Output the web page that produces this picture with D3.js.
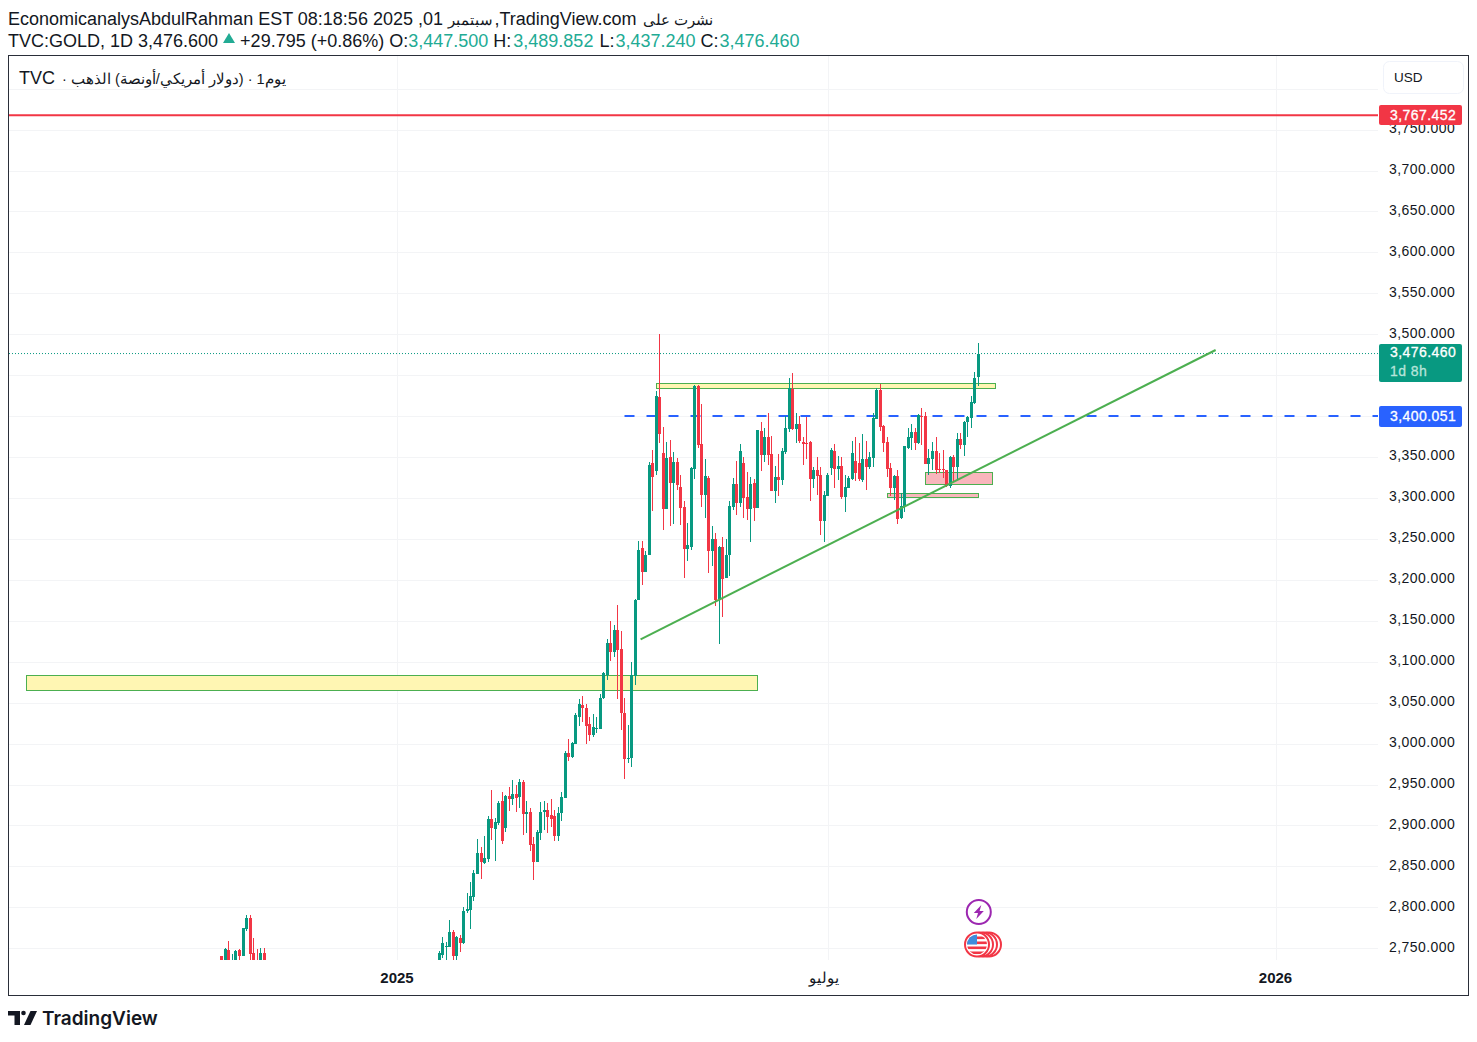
<!DOCTYPE html>
<html lang="ar">
<head>
<meta charset="UTF-8">
<title>TVC:GOLD 1D</title>
<script src="https://d3js.org/d3.v7.min.js"></script>
<style>
    html, body { margin: 0; padding: 0; background: #fff; }
    svg { display: block; }
    text { font-family: "Liberation Sans", Arial, sans-serif; fill: #131722; }
    .price text, .tag { font-size: 14px; letter-spacing: 0.45px; }
</style>
</head>
<body>
<svg width="1477" height="1042"></svg>
<script>
// 13 bars of late 2024 that poke into the pane, then 155 bars from the start of 2025
var earlyCount = 13, earlyStart = -62;
var opens = [2741,2725,2748,2715,2725,2748,2741,2774,2787,2744,2722,2725,2744,
    2730,2742,2752,2752,2770,2740,2762,2756,2795,2797,
    2813,2841,2867,2854,2859,2908,2896,2903,2930,2897,
    2936,2932,2938,2935,2953,2914,2916,2877,2856,2891,
    2916,2919,2913,2912,2887,2915,2933,2989,2984,3000,
    3032,3047,3043,3024,3010,3018,3018,3056,3084,3123,
    3112,3139,3115,3038,2982,2982,3082,3176,3239,3210,
    3230,3343,3333,3423,3355,3287,3350,3318,3344,3314,
    3289,3238,3240,3336,3437,3366,3304,3325,3235,3250,
    3177,3240,3202,3230,3289,3317,3294,3343,3301,3287,
    3318,3288,3382,3353,3375,3354,3309,3326,3322,3356,
    3384,3433,3384,3390,3368,3367,3369,3323,3334,3328,
    3272,3303,3337,3358,3336,3339,3301,3312,3323,3345,
    3343,3322,3348,3338,3349,3397,3432,3388,3368,3337,
    3312,3327,3276,3289,3361,3373,3381,3367,3400,3400,
    3342,3348,3358,3336,3336,3334,3315,3350,3338,3372,
    3365,3393,3398,3416,3447.5];
var highs = [2741,2750,2759,2743,2748,2749,2775,2791,2791,2763,2749,2750,2750,
    2747,2764,2758,2785,2772,2765,2766,2800,2818,2831,
    2846,2883,2874,2887,2911,2943,2909,2930,2941,2937,
    2947,2955,2950,2957,2955,2930,2921,2886,2895,2929,
    2930,2928,2932,2919,2923,2941,2991,3006,3002,3038,
    3054,3058,3048,3033,3036,3032,3061,3088,3128,3150,
    3145,3169,3138,3056,3023,3100,3177,3247,3247,3235,
    3344,3359,3431,3500,3387,3369,3371,3356,3349,3328,
    3296,3270,3338,3438,3438,3415,3348,3327,3266,3257,
    3241,3252,3250,3296,3324,3345,3366,3350,3332,3326,
    3323,3383,3393,3386,3404,3376,3339,3354,3361,3400,
    3447,3453,3404,3400,3375,3399,3370,3338,3350,3338,
    3309,3330,3361,3366,3351,3350,3328,3327,3370,3375,
    3367,3378,3370,3356,3404,3434,3439,3389,3375,3343,
    3328,3334,3306,3364,3386,3391,3386,3403,3410,3405,
    3360,3369,3375,3355,3359,3334,3351,3353,3380,3380,
    3394,3400,3425,3454,3489.852];
var lows = [2720,2720,2715,2710,2720,2725,2741,2771,2725,2720,2715,2720,2715,
    2712,2738,2736,2752,2718,2718,2746,2755,2793,2773,
    2808,2841,2835,2853,2855,2882,2857,2901,2877,2892,
    2918,2925,2917,2921,2888,2891,2869,2833,2856,2882,
    2894,2891,2898,2881,2881,2906,2933,2979,2983,3000,
    3022,3026,2999,3003,3008,3013,3018,3055,3078,3101,
    3106,3055,3017,2957,2976,2971,3072,3176,3194,3210,
    3230,3284,3328,3367,3261,3287,3266,3268,3310,3267,
    3202,3223,3237,3323,3361,3289,3276,3209,3217,3168,
    3122,3155,3202,3205,3285,3279,3289,3275,3273,3246,
    3272,3288,3333,3344,3340,3308,3294,3303,3316,3354,
    3381,3383,3367,3367,3340,3348,3296,3312,3304,3255,
    3246,3303,3328,3312,3322,3299,3283,3312,3322,3321,
    3321,3320,3310,3336,3338,3396,3382,3356,3326,3303,
    3298,3268,3274,3283,3360,3359,3359,3366,3365,3342,
    3328,3334,3329,3331,3325,3314,3312,3320,3322,3360,
    3351,3375,3386,3415,3437.24];
var closes = [2725,2749,2720,2722,2747,2741,2775,2787,2743,2725,2718,2744,2720,
    2744,2756,2753,2770,2740,2764,2757,2795,2798,2814,
    2842,2867,2856,2860,2908,2897,2904,2928,2881,2936,
    2932,2939,2933,2953,2914,2916,2876,2856,2892,2916,
    2919,2910,2908,2887,2915,2935,2989,2984,3001,3035,
    3049,3043,3021,3010,3020,3019,3056,3086,3123,3112,
    3139,3114,3037,2981,2983,3084,3176,3237,3210,3231,
    3340,3326,3425,3378,3287,3349,3318,3344,3316,3288,
    3238,3242,3337,3437,3365,3304,3327,3235,3250,3176,
    3240,3201,3230,3290,3317,3294,3358,3300,3287,3317,
    3288,3383,3353,3375,3353,3309,3326,3322,3358,3386,
    3434,3384,3390,3370,3366,3366,3323,3334,3327,3272,
    3304,3328,3359,3336,3339,3301,3314,3325,3355,3331,
    3323,3348,3338,3350,3398,3432,3387,3367,3336,3312,
    3327,3274,3290,3364,3375,3381,3367,3401,3399,3342,
    3349,3358,3334,3334,3334,3315,3350,3338,3372,3365,
    3393,3399,3417,3447,3476.46];

// 3,400 and 3,450 sit behind the price tags, so they only get grid lines
var priceTicks = [2750,2800,2850,2900,2950,3000,3050,3100,3150,3200,3250,3300,3350,3500,3550,3600,3650,3700,3750];
var gridPrices = priceTicks.concat([3400, 3450, 3800]);
var timeLabels = ["2025", "يوليو", "2026"];
var timeBars = [-12, 111, 239];

// price levels and drawings, [bar from, bar to, price top, price bottom]
var resistance = 3767.452, lastPrice = 3476.46, brokenLevel = 3400.051;
var brokenLevelStart = 53;
var yellowZones = [[-117.8, 91, 3082.6, 3064.5], [62.3, 159.2, 3439, 3433]];
var pinkZones = [[139, 158, 3330.4, 3315.8], [128.2, 154.2, 3304.6, 3299.8]];
var trendBars = [57.6, 221.9], trendPrices = [3127.4, 3480.8];

var green = "#089981", red = "#f23645", blue = "#2962ff", lineGreen = "#4caf50";

var svg = d3.select("svg");
var paneLeft = 9, paneRight = 1378, paneTop = 56, paneBottom = 960;

var x = d3.scaleLinear().domain([0, 154]).range([439, 978]);
var y = d3.scaleLinear().domain([2750, 3750]).range([948.3, 129.6]);

svg.append("clipPath").attr("id", "pane").append("rect")
    .attr("x", paneLeft).attr("y", paneTop)
    .attr("width", paneRight - paneLeft).attr("height", paneBottom - paneTop);

// grid
var grid = svg.append("g").attr("stroke", "#f3f4f6").attr("shape-rendering", "crispEdges");
grid.selectAll(".h").data(gridPrices).join("line")
    .attr("x1", paneLeft).attr("x2", paneRight)
    .attr("y1", d => Math.round(y(d))).attr("y2", d => Math.round(y(d)));
grid.selectAll(".v").data(timeBars).join("line")
    .attr("x1", d => Math.round(x(d))).attr("x2", d => Math.round(x(d)))
    .attr("y1", paneTop).attr("y2", paneBottom);

var pane = svg.append("g").attr("clip-path", "url(#pane)");

function zones(list, fill) {
    pane.append("g").selectAll("rect").data(list).join("rect")
        .attr("x", d => Math.round(x(d[0])) - 0.5)
        .attr("width", d => Math.round(x(d[1]) - x(d[0])))
        .attr("y", d => Math.round(y(d[2])) - 0.5)
        .attr("height", d => Math.round(y(d[3]) - y(d[2])))
        .attr("fill", fill).attr("stroke", lineGreen);
}
zones(yellowZones, "#fff6b3");
zones(pinkZones, "#f9b6bc");

pane.append("line")
    .attr("x1", paneLeft).attr("x2", paneRight)
    .attr("y1", y(lastPrice)).attr("y2", y(lastPrice))
    .attr("stroke", green).attr("stroke-dasharray", "1 2");
pane.append("line")
    .attr("x1", x(brokenLevelStart)).attr("x2", paneRight)
    .attr("y1", y(brokenLevel)).attr("y2", y(brokenLevel))
    .attr("stroke", blue).attr("stroke-width", 2).attr("stroke-dasharray", "10 12");

// candles
var bars = opens.map(function(o, i) {
    return {
        bar: i < earlyCount ? earlyStart + i : i - earlyCount,
        o: o, h: highs[i], l: lows[i], c: closes[i]
    };
});
var candle = pane.append("g").attr("shape-rendering", "crispEdges")
    .selectAll("g").data(bars).join("g")
    .attr("fill", d => d.c >= d.o ? green : red);
candle.append("rect")
    .attr("x", d => Math.floor(x(d.bar))).attr("width", 1)
    .attr("y", d => Math.round(y(d.h)))
    .attr("height", d => Math.round(y(d.l)) - Math.round(y(d.h)));
candle.append("rect")
    .attr("x", d => Math.floor(x(d.bar)) - 1).attr("width", 3)
    .attr("y", d => Math.round(y(Math.max(d.o, d.c))))
    .attr("height", d => Math.max(1, Math.round(y(Math.min(d.o, d.c))) - Math.round(y(Math.max(d.o, d.c)))));

pane.append("line")
    .attr("x1", x(trendBars[0])).attr("x2", x(trendBars[1]))
    .attr("y1", y(trendPrices[0])).attr("y2", y(trendPrices[1]))
    .attr("stroke", lineGreen).attr("stroke-width", 2);
pane.append("line")
    .attr("x1", paneLeft).attr("x2", paneRight)
    .attr("y1", y(resistance)).attr("y2", y(resistance))
    .attr("stroke", red).attr("stroke-width", 2);

// event icons
var lastX = x(154);
var flags = svg.append("g").attr("transform", "translate(" + lastX + ",944.5)");
flags.selectAll("circle").data([12, 8, 4, 0]).join("circle")
    .attr("cx", d => d - 1).attr("r", 12)
    .attr("fill", "#fff").attr("stroke", red).attr("stroke-width", 2);
svg.append("clipPath").attr("id", "flag").append("circle").attr("r", 10);
var flag = flags.append("g").attr("transform", "translate(-1,0)").attr("clip-path", "url(#flag)");
flag.selectAll(".s").data([-8, -3, 2, 7]).join("rect")
    .attr("x", -11).attr("y", d => d).attr("width", 22).attr("height", 2.6).attr("fill", red);
flag.append("rect").attr("x", -11).attr("y", -11).attr("width", 11).attr("height", 11).attr("fill", "#3f8cdc");

var bolt = svg.append("g").attr("transform", "translate(" + (lastX + 0.8) + ",912)");
bolt.append("circle").attr("r", 12).attr("fill", "#fff").attr("stroke", "#9c27b0").attr("stroke-width", 2);
bolt.append("path").attr("d", "M2.5,-7 L-5,1 L-0.8,1 L-2.5,7 L5,-1 L0.8,-1 Z").attr("fill", "#9c27b0");

// price axis
var priceAxis = d3.axisRight(y).tickValues(priceTicks)
    .tickFormat(d3.format(",.3f")).tickSize(0).tickPadding(0);
svg.append("g").attr("class", "price")
    .attr("transform", "translate(1389,0)")
    .call(priceAxis)
    .call(g => g.select(".domain").remove())
    .selectAll("text").attr("dy", "0.2em").style("fill", "#131722");

// time axis
svg.append("g").selectAll("text").data(timeLabels).join("text")
    .attr("x", (d, i) => i === 1 ? x(timeBars[i]) - 4 : x(timeBars[i]))
    .attr("y", 983).attr("text-anchor", "middle")
    .attr("font-size", 15).attr("font-weight", (d, i) => i === 1 ? 400 : 700)
    .text(d => d);

// price tags
function tag(top, height, colour, label, sub) {
    svg.append("rect").attr("x", 1379).attr("y", top).attr("width", 83).attr("height", height)
        .attr("rx", 2).attr("fill", colour);
    svg.append("text").attr("class", "tag").attr("x", 1390).attr("y", sub ? top + 13 : top + 14.5)
        .style("fill", "#fff").style("stroke", "#fff").style("stroke-width", 0.3).text(label);
    if (sub) svg.append("text").attr("class", "tag").attr("x", 1390).attr("y", top + 32)
        .style("fill", "#b7e4da").style("stroke", "#b7e4da").style("stroke-width", 0.3).text(sub);
}
tag(105, 20, red, d3.format(",.3f")(resistance));
tag(344, 38, green, d3.format(",.3f")(lastPrice), "1d 8h");
tag(406, 21, blue, d3.format(",.3f")(brokenLevel));

// USD box
svg.append("rect").attr("x", 1383.5).attr("y", 61.5).attr("width", 80).attr("height", 32).attr("rx", 6)
    .attr("fill", "#fff").attr("stroke", "#f0f3fa");
svg.append("text").attr("x", 1394).attr("y", 82).attr("font-size", 13.5).text("USD");

// frame
svg.append("rect").attr("x", 8.5).attr("y", 55.5).attr("width", 1460).attr("height", 940)
    .attr("fill", "none").attr("stroke", "#2a2e39");

// header
var titleParts = ["EconomicanalysAbdulRahman EST 08:18:56 2025 ,01 ", "سبتمبر", " ,TradingView.com ", "نشرت على"];
var titleNudge = [0, 0, -3.5, 1];
svg.append("text").attr("x", 8).attr("y", 25).attr("font-size", 18)
    .selectAll("tspan").data(titleParts).join("tspan")
    .attr("font-size", (d, i) => i % 2 ? 14.5 : 18)
    .attr("dx", (d, i) => titleNudge[i])
    .text(d => d);

var headerParts = ["TVC:GOLD, 1D 3,476.600", " +29.795 (+0.86%) O:", "3,447.500", " H:", "3,489.852", " L:", "3,437.240", " C:", "3,476.460"];
var headerNudge = [0, 17, 0, 0, 2, 1, 1, 0, 1];
var teal = "#22ab94";
svg.append("text").attr("x", 8).attr("y", 47).attr("font-size", 18)
    .selectAll("tspan").data(headerParts).join("tspan")
    .style("fill", (d, i) => i > 0 && i % 2 === 0 ? teal : "#131722")
    .attr("dx", (d, i) => headerNudge[i])
    .text(d => d);
svg.append("path").attr("d", "M229,33 L235,43 H223 Z").attr("fill", teal);

var legendParts = ["TVC", " · الذهب\u200E (دولار أمريكي/أونصة)\u200E · 1يوم"];
svg.append("text").attr("x", 19).attr("y", 84)
    .selectAll("tspan").data(legendParts).join("tspan")
    .attr("font-size", (d, i) => i === 0 ? 18 : 14.5)
    .attr("dx", (d, i) => i === 0 ? 0 : 3)
    .text(d => d);

// logo
var logo = svg.append("g").attr("fill", "#131722");
logo.append("path").attr("d", "M8,1011 H20 V1025 H14.5 V1015.5 H8 Z");
logo.append("circle").attr("cx", 23.5).attr("cy", 1013).attr("r", 2.3);
logo.append("path").attr("d", "M30.5,1011 H37 L30.5,1025 H24 Z");
svg.append("text").attr("x", 42).attr("y", 1025).attr("font-size", 19).attr("font-weight", 600)
    .style("font-family", "Inter").text("TradingView");
</script>
</body>
</html>
